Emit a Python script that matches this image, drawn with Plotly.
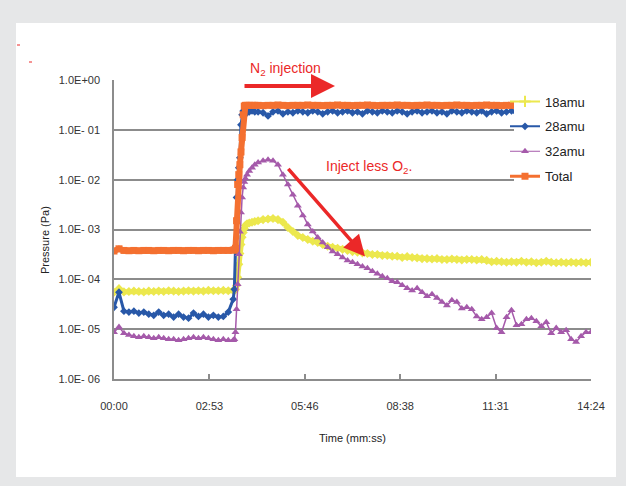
import plotly.graph_objects as go

# ---------------- data ----------------
time_s = [0, 9, 18, 27, 36, 45, 54, 63, 72, 81, 90, 99, 108, 117, 126, 135, 144, 153, 162, 171, 180, 189, 198, 207, 216,
          218, 220, 222, 224, 226, 228, 230, 232, 234, 236, 238, 241, 245, 250, 255,
          261, 270, 279, 288, 297, 306, 315, 324, 333, 342, 351, 360, 369, 378, 387, 396, 405, 414, 423, 432,
          441, 450, 459, 468, 477, 486, 495, 504, 513, 522, 531, 540, 549, 558, 567, 576, 585, 594, 603, 612,
          621, 630, 639, 648, 657, 666, 675, 684, 693, 702, 711, 720, 729, 738, 747, 756, 765, 774, 783, 792,
          801, 810, 819, 828, 837, 846, 855, 864]

amu18 = [5.5e-5, 6.5e-5, 5.6e-5, 5.7e-5, 5.8e-5, 5.7e-5, 5.6e-5, 5.8e-5, 5.7e-5, 5.8e-5, 5.7e-5, 5.9e-5, 5.8e-5,
         5.7e-5, 5.8e-5, 5.9e-5, 5.8e-5, 5.9e-5, 5.8e-5, 6.0e-5, 5.9e-5, 5.9e-5, 6.0e-5, 5.9e-5, 6.0e-5,
         5.9e-5, 6.3e-5, 7.5e-5, 1.1e-4, 2.0e-4, 3.3e-4, 5.0e-4, 7.0e-4, 8.7e-4, 1.05e-3, 1.2e-3, 1.3e-3, 1.35e-3,
         1.4e-3, 1.45e-3,
         1.5e-3, 1.58e-3, 1.62e-3, 1.66e-3, 1.58e-3, 1.4e-3, 1.1e-3, 9.1e-4, 7.6e-4, 6.9e-4,
         6.3e-4, 5.8e-4, 5.5e-4, 5.0e-4, 4.6e-4, 4.4e-4, 4.2e-4, 4.0e-4, 3.8e-4, 3.6e-4,
         3.5e-4, 3.4e-4, 3.3e-4, 3.15e-4, 3.15e-4, 3.0e-4, 3.0e-4, 2.9e-4, 2.9e-4, 2.75e-4,
         2.85e-4, 2.75e-4, 2.7e-4, 2.6e-4, 2.6e-4, 2.55e-4, 2.6e-4, 2.5e-4,
         2.5e-4, 2.55e-4, 2.5e-4, 2.45e-4, 2.5e-4, 2.5e-4, 2.45e-4, 2.5e-4, 2.4e-4, 2.25e-4,
         2.3e-4, 2.25e-4, 2.2e-4, 2.25e-4, 2.2e-4, 2.3e-4, 2.2e-4, 2.25e-4, 2.15e-4, 2.2e-4,
         2.3e-4, 2.2e-4, 2.15e-4, 2.2e-4, 2.15e-4, 2.2e-4, 2.15e-4, 2.2e-4, 2.15e-4, 2.2e-4]

amu28 = [2.75e-5, 5.5e-5, 2.3e-5, 2.2e-5, 2.3e-5, 2.1e-5, 2.2e-5, 2.0e-5, 1.9e-5, 2.2e-5, 1.9e-5, 2.0e-5, 1.75e-5,
         2.0e-5, 1.75e-5, 1.66e-5, 2.1e-5, 1.8e-5, 2.0e-5, 1.75e-5, 1.9e-5, 1.75e-5, 1.8e-5, 2.2e-5, 4.0e-5,
         6.3e-5, 4.0e-4, 4.4e-3, 1.0e-2, 1.74e-2, 2.75e-2, 0.126, 0.2, 0.24, 0.23, 0.24, 0.22, 0.23, 0.24, 0.23,
         0.23, 0.22, 0.19, 0.23, 0.24, 0.21, 0.23, 0.22, 0.24, 0.23,
         0.22, 0.24, 0.23, 0.21, 0.23, 0.24, 0.22, 0.23, 0.24, 0.22,
         0.23, 0.21, 0.24, 0.23, 0.22, 0.24, 0.23, 0.22, 0.24, 0.23,
         0.21, 0.23, 0.24, 0.22, 0.23, 0.24, 0.22, 0.23, 0.21, 0.24,
         0.23, 0.22, 0.24, 0.23, 0.22, 0.24, 0.21, 0.23, 0.24, 0.22,
         0.23, 0.24, 0.22, 0.23, 0.24, 0.22, 0.23, 0.24, 0.22, 0.23,
         0.24, 0.22, 0.23, 0.24, 0.22, 0.23, 0.24, 0.23]

amu32 = [8.7e-6, 1.1e-5, 8.3e-6, 7.6e-6, 7.2e-6, 6.9e-6, 7.2e-6, 6.9e-6, 6.6e-6, 6.9e-6, 6.6e-6, 6.3e-6, 6.3e-6,
         6.0e-6, 6.3e-6, 6.6e-6, 6.9e-6, 6.6e-6, 6.9e-6, 6.6e-6, 6.3e-6, 6.0e-6, 6.3e-6, 6.0e-6, 6.0e-6,
         6.3e-6, 8.7e-6, 2.5e-5, 8.0e-5, 3.2e-4, 9.0e-4, 2.2e-3, 4.4e-3, 7.0e-3, 9.0e-3, 1.05e-2, 1.26e-2, 1.5e-2,
         1.74e-2, 2.0e-2,
         2.2e-2, 2.4e-2, 2.5e-2, 2.4e-2, 2.0e-2, 1.26e-2, 8.0e-3, 5.0e-3, 3.0e-3, 1.9e-3,
         1.26e-3, 9.1e-4, 6.9e-4, 5.5e-4, 4.4e-4, 3.6e-4, 3.2e-4, 2.75e-4, 2.4e-4, 2.2e-4,
         2.0e-4, 1.8e-4, 1.66e-4, 1.45e-4, 1.3e-4, 1.15e-4, 1.05e-4, 9.1e-5, 8.7e-5, 7.6e-5,
         6.6e-5, 6.0e-5, 6.6e-5, 5.5e-5, 4.6e-5, 5.0e-5, 4.2e-5, 3.5e-5, 3.0e-5, 3.8e-5,
         3.5e-5, 2.6e-5, 2.75e-5, 2.5e-5, 1.8e-5, 1.58e-5, 1.74e-5, 2.1e-5, 1.05e-5, 8.7e-6,
         1.74e-5, 2.4e-5, 1.2e-5, 1.26e-5, 1.58e-5, 1.66e-5, 1.45e-5, 1.15e-5, 1.38e-5, 8.3e-6,
         1.05e-5, 8.7e-6, 9.5e-6, 6.3e-6, 5.5e-6, 7.2e-6, 8.7e-6, 8.7e-6]

total = [3.7e-4, 4.1e-4, 3.8e-4, 3.75e-4, 3.8e-4, 3.75e-4, 3.8e-4, 3.8e-4, 3.75e-4, 3.8e-4, 3.8e-4, 3.75e-4, 3.8e-4,
         3.8e-4, 3.75e-4, 3.8e-4, 3.8e-4, 3.75e-4, 3.8e-4, 3.8e-4, 3.75e-4, 3.8e-4, 3.8e-4, 3.8e-4, 3.85e-4,
         3.9e-4, 4.2e-4, 1.5e-3, 8.0e-3, 1.26e-2, 2.0e-2, 3.6e-2, 7.0e-2, 0.2, 0.3, 0.31, 0.31, 0.31, 0.31, 0.31,
         0.31, 0.305, 0.31, 0.31, 0.315, 0.31, 0.305, 0.31, 0.31, 0.31,
         0.315, 0.31, 0.31, 0.305, 0.31, 0.31, 0.315, 0.31, 0.31, 0.305,
         0.31, 0.31, 0.315, 0.31, 0.305, 0.31, 0.31, 0.31, 0.315, 0.31,
         0.31, 0.305, 0.31, 0.31, 0.315, 0.31, 0.31, 0.305, 0.31, 0.31,
         0.315, 0.31, 0.31, 0.305, 0.31, 0.31, 0.315, 0.31, 0.31, 0.305,
         0.31, 0.31, 0.315, 0.31, 0.305, 0.31, 0.31, 0.31, 0.315, 0.31,
         0.31, 0.305, 0.31, 0.31, 0.315, 0.31, 0.31, 0.31]

series_names = ["18amu", "28amu", "32amu", "Total"]
series_values = [amu18, amu28, amu32, total]

x_tick_vals = [0, 172.8, 345.6, 518.4, 691.2, 864]
x_tick_text = ["00:00", "02:53", "05:46", "08:38", "11:31", "14:24"]
y_tick_vals = [1, 1e-1, 1e-2, 1e-3, 1e-4, 1e-5, 1e-6]
y_tick_text = ["1.0E+00", "1.0E- 01", "1.0E- 02", "1.0E- 03", "1.0E- 04", "1.0E- 05", "1.0E- 06"]

# ---------------- styles ----------------
colors = ["rgb(236,232,78)", "rgb(40,88,168)", "rgb(165,90,170)", "rgb(244,112,48)"]
line_w = [5, 3, 1.5, 6]
legend_line_w = [2, 2, 1, 3]
symbols = ["diamond", "diamond", "triangle-up", "square"]
legend_symbols = ["cross-thin", "diamond", "triangle-up", "square"]
msize = [7, 6, 7, 7]
legend_msize = [8, 6, 7, 7]

FONT = "Liberation Sans, Arial, sans-serif"
RED = "rgb(235,40,40)"

fig = go.Figure()
for i, (name, vals) in enumerate(zip(series_names, series_values)):
    fig.add_trace(go.Scatter(
        x=time_s, y=vals, name=name, mode="lines+markers", showlegend=False,
        line=dict(color=colors[i], width=line_w[i]),
        marker=dict(color=colors[i], symbol=symbols[i], size=msize[i], line=dict(width=0)),
    ))
# legend entries (thin lines like the original legend keys)
for i, name in enumerate(series_names):
    fig.add_trace(go.Scatter(
        x=[None], y=[None], name=name, mode="lines+markers", legendgroup=name,
        line=dict(color=colors[i], width=legend_line_w[i]),
        marker=dict(color=colors[i], symbol=legend_symbols[i], size=legend_msize[i],
                    line=dict(width=2 if i == 0 else 0, color=colors[i])),
    ))

L, R, T, B = 114, 35, 80, 107
W, H = 626, 486
pw, ph = W - L - R, H - T - B


def px2paper(x, y):
    return (x - L) / pw, (H - B - y) / ph


x0, y0 = px2paper(16, 477)
x1, y1 = px2paper(616, 23)

shapes = [
    dict(type="rect", xref="paper", yref="paper", x0=x0, y0=y0, x1=x1, y1=y1,
         fillcolor="white", line=dict(width=0), layer="below"),
]
# white box behind the legend (covers the lines like the original legend box)
b0 = px2paper(514, 190)
b1 = px2paper(604, 90)
shapes.append(dict(type="rect", xref="paper", yref="paper", x0=b0[0], y0=b0[1], x1=b1[0], y1=b1[1],
                   fillcolor="white", line=dict(width=0), layer="above"))
for (ax_, ay_) in [(17, 45), (29, 62)]:
    a0 = px2paper(ax_, ay_)
    a1 = px2paper(ax_ + 3, ay_)
    shapes.append(dict(type="line", xref="paper", yref="paper", x0=a0[0], y0=a0[1], x1=a1[0], y1=a1[1],
                       line=dict(color=RED, width=1)))

lx, ly = px2paper(505, 86.5)
n2x, n2y = px2paper(285, 69)
ytx, yty = px2paper(45, 240)
xtx, xty = px2paper(352, 438)

fig.update_layout(
    width=W, height=H,
    margin=dict(l=L, r=R, t=T, b=B),
    paper_bgcolor="rgb(230,231,232)",
    plot_bgcolor="white",
    font=dict(family=FONT, size=11, color="#333333"),
    showlegend=True,
    legend=dict(x=lx, y=ly, xanchor="left", yanchor="top", bgcolor="rgba(255,255,255,0)",
                font=dict(size=13, color="#222222"), tracegroupgap=5, itemwidth=30),
    shapes=shapes,
    xaxis=dict(range=[0, 864], tickvals=x_tick_vals, ticktext=x_tick_text,
               showgrid=False, zeroline=False, showline=True, linecolor="#8c8c8c", linewidth=1.5,
               ticks="inside", ticklen=5, tickcolor="#8c8c8c", tickwidth=1.5,
               ticklabelstandoff=16),
    yaxis=dict(type="log", range=[-6, 0], tickvals=y_tick_vals, ticktext=y_tick_text,
               showgrid=True, gridcolor="#8c8c8c", gridwidth=1.5, zeroline=False,
               showline=True, linecolor="#8c8c8c", linewidth=1.5, ticks="",
               ticklabelstandoff=10),
    annotations=[
        dict(x=ytx, y=yty, xref="paper", yref="paper", xanchor="center", yanchor="middle",
             text="Pressure (Pa)", textangle=-90, showarrow=False,
             font=dict(size=11, color="#222222", family=FONT)),
        dict(x=xtx, y=xty, xref="paper", yref="paper", xanchor="center", yanchor="middle",
             text="Time (mm:ss)", showarrow=False,
             font=dict(size=11, color="#222222", family=FONT)),
        dict(x=n2x, y=n2y, xref="paper", yref="paper", xanchor="center", yanchor="middle",
             text="N<sub>2</sub> injection", showarrow=False,
             font=dict(size=14, color=RED, family=FONT)),
        dict(x=400.3, y=-0.12, xref="x", yref="y", ax=-92, ay=0, axref="pixel", ayref="pixel",
             text="", showarrow=True, arrowhead=2, arrowsize=1.2, arrowwidth=4, arrowcolor=RED),
        dict(x=461.9, y=-1.74, xref="x", yref="y", xanchor="center", yanchor="middle",
             text="Inject less O<sub>2</sub>.", showarrow=False,
             font=dict(size=14, color=RED, family=FONT)),
        dict(x=454.6, y=-3.54, xref="x", yref="y", ax=-78, ay=-89, axref="pixel", ayref="pixel",
             text="", showarrow=True, arrowhead=2, arrowsize=1.2, arrowwidth=3.5, arrowcolor=RED),
    ],
)

fig.write_html("out.html")
